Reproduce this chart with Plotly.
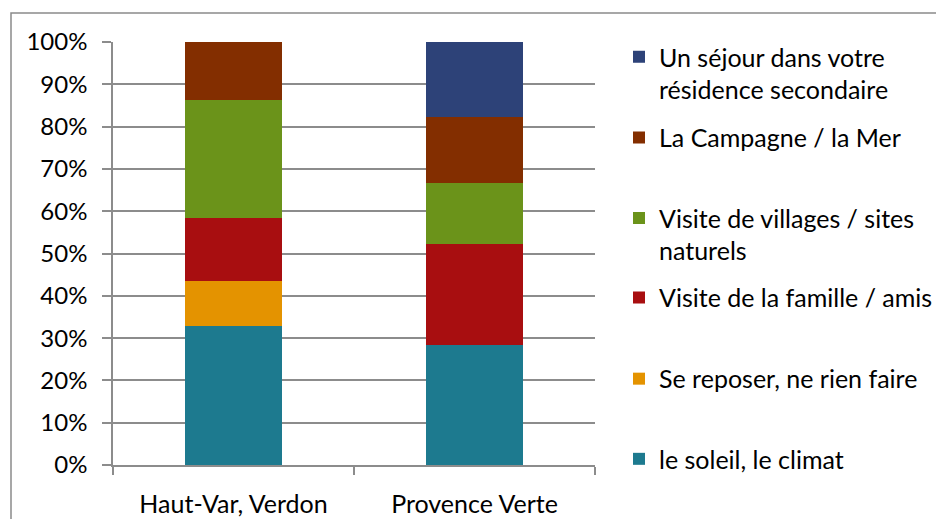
import plotly.graph_objects as go

categories = ["Haut-Var, Verdon", "Provence Verte"]

series_names = [
    "le soleil, le climat",
    "Se reposer, ne rien faire",
    "Visite de la famille / amis",
    "Visite de villages / sites<br>naturels",
    "La Campagne / la Mer",
    "Un séjour dans votre<br>résidence secondaire",
]
soleil = [32.9, 28.4]
reposer = [10.5, 0.0]
famille = [15.0, 23.9]
villages = [28.0, 14.3]
campagne = [13.6, 15.7]
sejour = [0.0, 17.7]

series_values = [soleil, reposer, famille, villages, campagne, sejour]
colors = ["#1D7A8F", "#E49300", "#A80E10", "#6B931A", "#832E00", "#2D4278"]
y_ticks = [0, 10, 20, 30, 40, 50, 60, 70, 80, 90, 100]
y_tick_labels = [f"{v}%" for v in y_ticks]

# legend vertical positions (paper coords, item centres)
legend_y = [0.014, 0.2035, 0.3951, 0.5453, 0.7736, 0.9267]

FONT = "Lato, Carlito, Calibri, sans-serif"
GRID = "#8c8c8c"

# figure is 928x511 so that with the page's 8px body margin it fills 944x527
W, H = 928, 511
L, R, T, B = 105, 341, 34, 54
PW, PH = W - L - R, H - T - B

fig = go.Figure()
for i, (name, vals, col) in enumerate(zip(series_names, series_values, colors)):
    lg = "legend" if i == 0 else f"legend{i+1}"
    fig.add_trace(go.Bar(
        x=categories, y=vals, name=name,
        marker=dict(color=col, line=dict(width=0)),
        legend=lg, showlegend=True,
    ))

layout = dict(
    width=W, height=H, showlegend=True,
    barmode="stack", bargap=0.6,
    paper_bgcolor="white", plot_bgcolor="white",
    margin=dict(l=L, r=R, t=T, b=B, pad=0, autoexpand=False),
    font=dict(family=FONT, size=25, color="#000000"),
    xaxis=dict(
        showline=True, linecolor=GRID, linewidth=1.5,
        ticks="outside", tickson="boundaries", ticklen=8, tickcolor=GRID, tickwidth=1.5,
        showgrid=False, tickfont=dict(size=25), ticklabelstandoff=16,
        automargin=False,
    ),
    yaxis=dict(
        range=[0, 100], tickvals=y_ticks, ticktext=y_tick_labels,
        showline=True, linecolor=GRID, linewidth=1.5,
        ticks="outside", ticklen=9, tickcolor=GRID, tickwidth=1.5,
        showgrid=True, gridcolor=GRID, gridwidth=1.5, zeroline=False,
        tickfont=dict(size=24), ticklabelstandoff=10, automargin=False,
    ),
    shapes=[dict(
        type="rect", xref="paper", yref="paper",
        x0=(3 - L) / PW, x1=(W + 20 - L) / PW,
        y0=-(B + 20) / PH, y1=(PH + T - 5) / PH,
        line=dict(color="#8a8a8a", width=1.5), fillcolor="rgba(0,0,0,0)", layer="below",
    )],
)
for i, ly in enumerate(legend_y):
    key = "legend" if i == 0 else f"legend{i+1}"
    layout[key] = dict(
        x=(611 - L) / PW, xanchor="left", y=ly, yanchor="middle",
        bgcolor="rgba(0,0,0,0)", font=dict(family=FONT, size=25, color="#000000"),
        valign="top", itemclick=False,
    )
fig.update_layout(**layout)
fig.write_html("out.html")
